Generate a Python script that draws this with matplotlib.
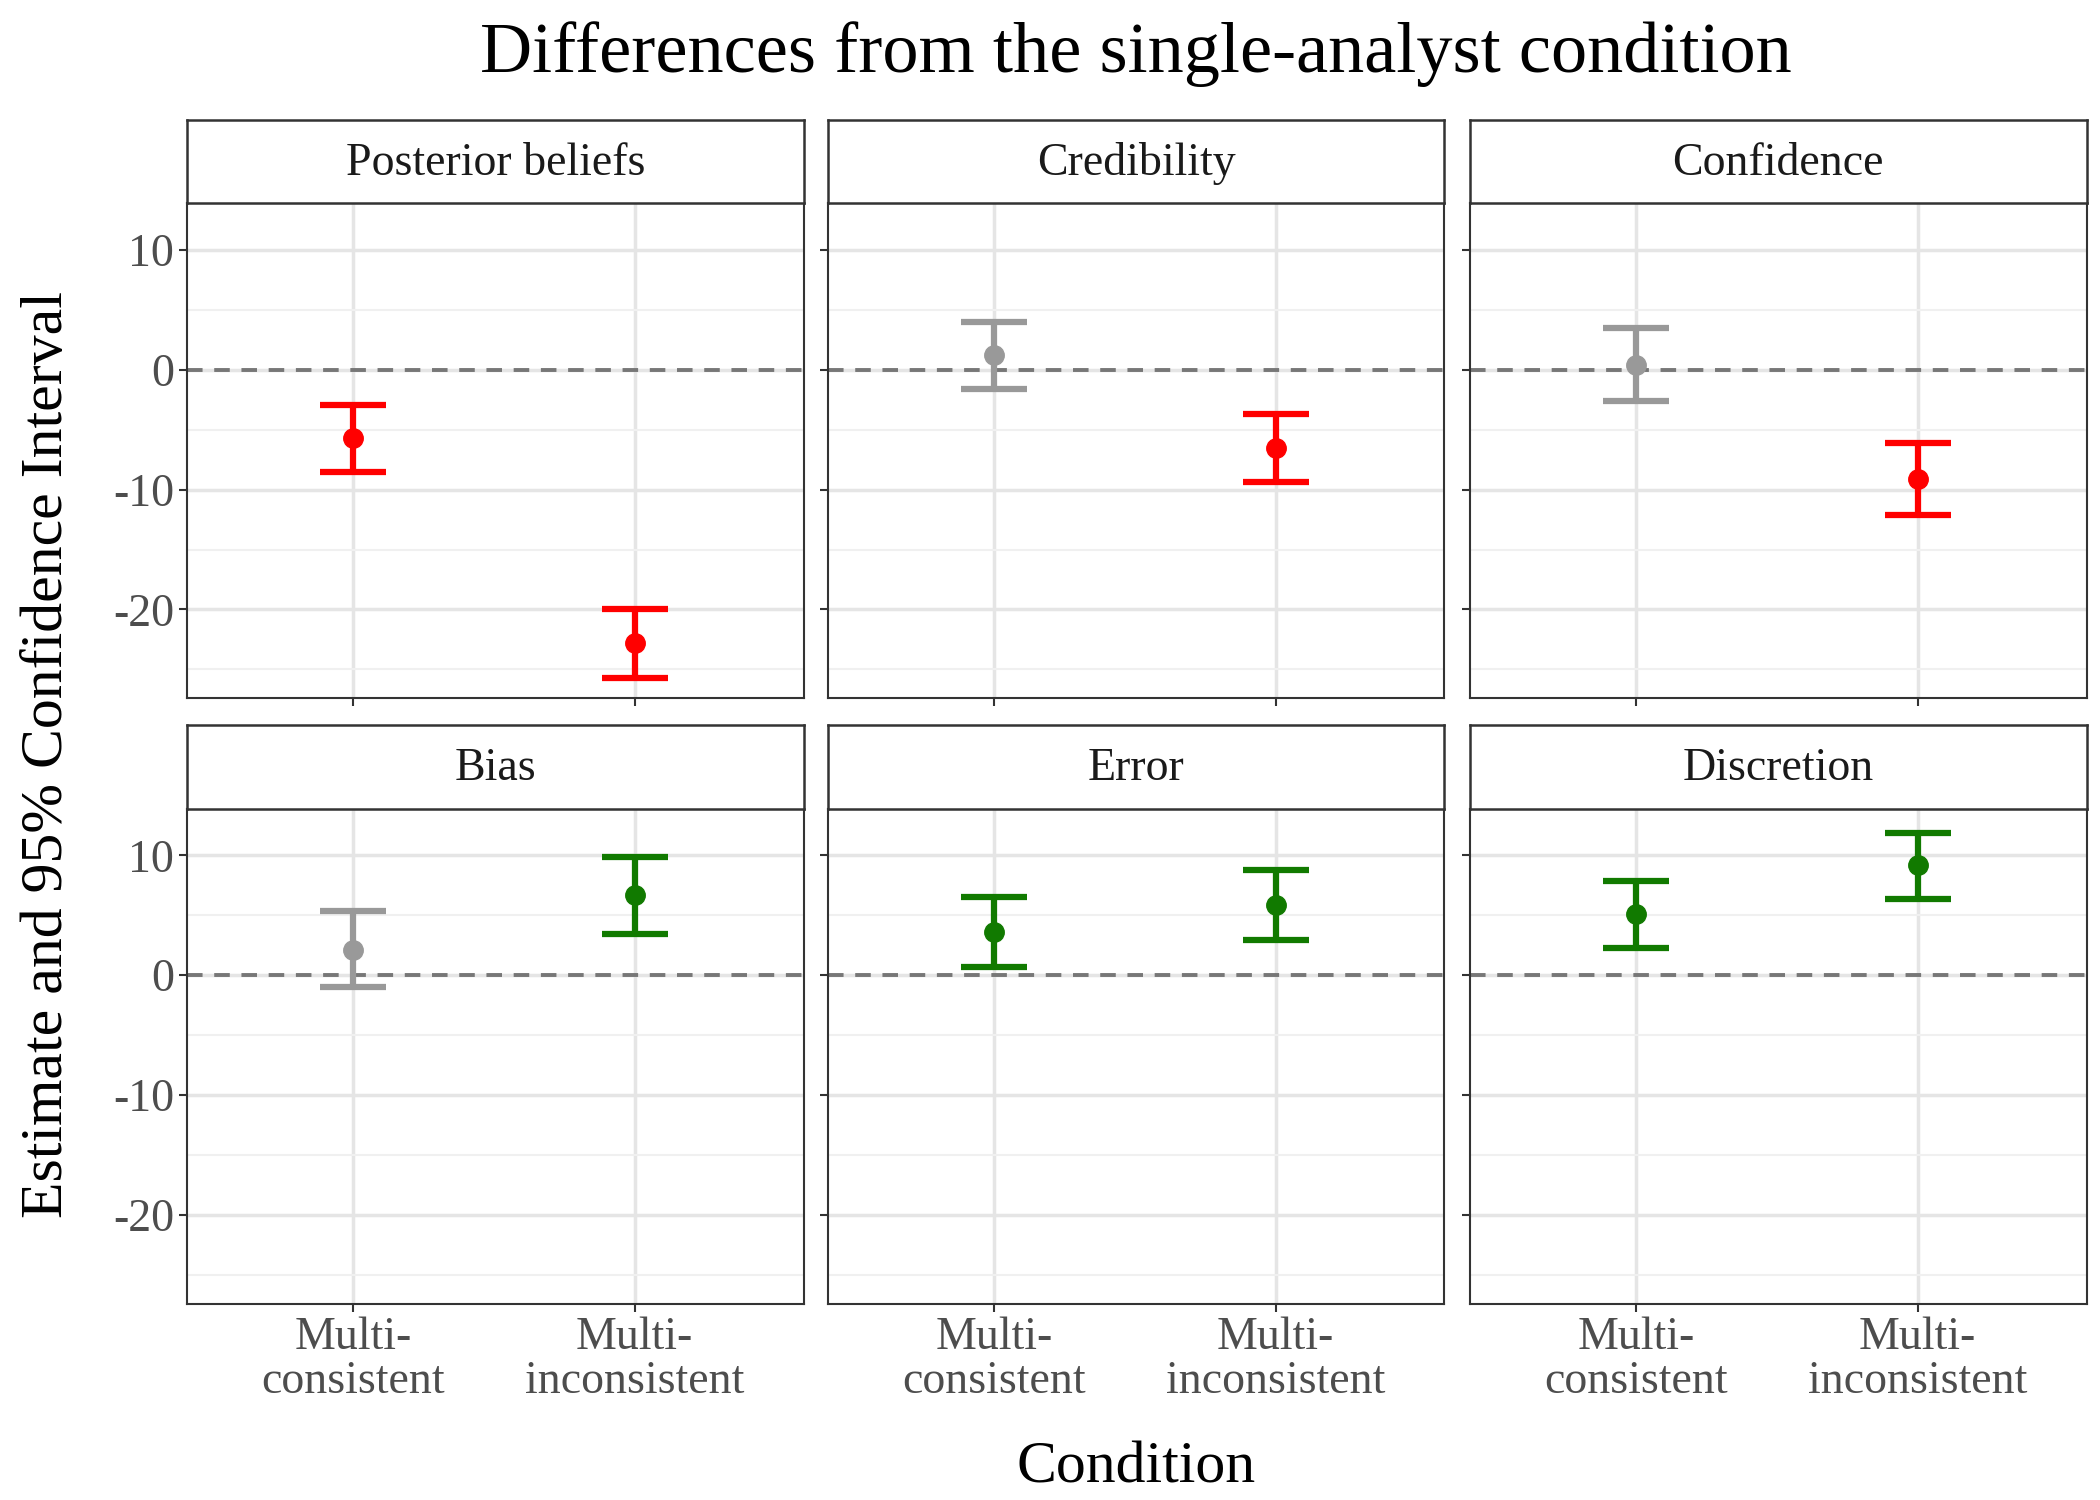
import matplotlib.pyplot as plt

plt.rcParams['font.family'] = ['Liberation Serif', 'DejaVu Serif']

panels = ['Posterior beliefs', 'Credibility', 'Confidence', 'Bias', 'Error', 'Discretion']
conditions = ['Multi-\nconsistent', 'Multi-\ninconsistent']
est = [[-5.7, -22.8], [1.2, -6.5], [0.4, -9.1], [2.1, 6.7], [3.6, 5.9], [5.1, 9.2]]
lo = [[-8.5, -25.7], [-1.6, -9.4], [-2.6, -12.1], [-1.0, 3.4], [0.7, 2.9], [2.3, 6.4]]
hi = [[-2.9, -20.0], [4.0, -3.7], [3.5, -6.1], [5.4, 9.9], [6.5, 8.8], [7.9, 11.9]]
colors = [['red', 'red'], ['#999999', 'red'], ['#999999', 'red'],
          ['#999999', 'green'], ['green', 'green'], ['green', 'green']]
green = '#117a00'

W, H = 1560, 1100
fig = plt.figure(figsize=(21, 15), dpi=100)
xs = [139, 615, 1092]
pw = 458
rows = [(88, 149, 512), (532, 593, 956)]

for i, name in enumerate(panels):
    r, c = divmod(i, 3)
    st, top, bot = rows[r]
    ax = fig.add_axes([xs[c] / W, 1 - bot / H, pw / W, (bot - top) / H])
    sx = fig.add_axes([xs[c] / W, 1 - top / H, pw / W, (top - st) / H])
    sx.set_xticks([]); sx.set_yticks([])
    for s in sx.spines.values():
        s.set_color('#333333'); s.set_linewidth(1.8)
    sx.text(0.5, 0.48, name, ha='center', va='center', fontsize=33, color='#1a1a1a', transform=sx.transAxes)

    ax.set_xlim(0.41, 2.6)
    ax.set_ylim(-27.4, 13.9)
    ax.set_yticks([-20, -10, 0, 10])
    ax.set_yticks([-25, -15, -5, 5], minor=True)
    ax.set_xticks([1, 2])
    ax.grid(True, which='major', color='#e5e5e5', lw=2.5)
    ax.grid(True, which='minor', axis='y', color='#f0f0f0', lw=1.5)
    ax.set_axisbelow(True)
    ax.axhline(0, color='#777777', ls='--', lw=2.8, dashes=(4, 3))
    for j in range(2):
        col = colors[i][j]
        if col == 'green':
            col = green
        ax.errorbar(j + 1, est[i][j], yerr=[[est[i][j] - lo[i][j]], [hi[i][j] - est[i][j]]],
                    fmt='o', color=col, ms=14, capsize=24, capthick=4.5, elinewidth=4.5)
    for s in ax.spines.values():
        s.set_color('#333333'); s.set_linewidth(1.5)
    ax.tick_params(length=6, width=1.5, color='#333333', labelsize=33, labelcolor='#4d4d4d')
    ax.tick_params(which='minor', length=0)
    if c == 0:
        ax.set_yticklabels(['-20', '-10', '0', '10'])
    else:
        ax.set_yticklabels([])
    if r == 1:
        ax.set_xticklabels(conditions, fontsize=33, linespacing=1.05)
    else:
        ax.set_xticklabels([])

fig.text(844 / W, 1 - 40 / H, 'Differences from the single-analyst condition', ha='center', va='center', fontsize=52)
fig.text(844 / W, 1 - 1077 / H, 'Condition', ha='center', va='center', fontsize=43)
fig.text(36 / W, 1 - 553 / H, 'Estimate and 95% Confidence Interval', ha='center', va='center', fontsize=43, rotation=90)

fig.savefig('out.png')
